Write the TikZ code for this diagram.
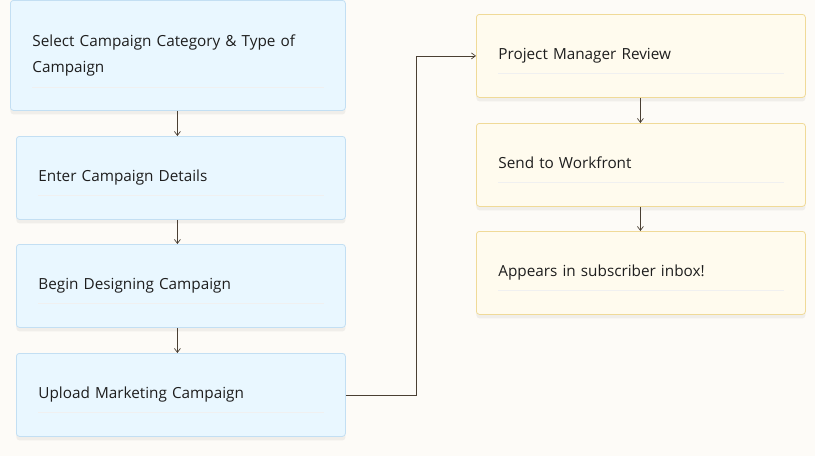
\documentclass[tikz,border=0pt]{standalone}
\usepackage{fontspec}
\setmainfont{Open Sans}
\usepackage{xcolor}
\usetikzlibrary{positioning,arrows.meta,shadows}
\definecolor{pagebg}{HTML}{FDFBF7}
\definecolor{bluefill}{HTML}{E9F7FF}
\definecolor{blueline}{HTML}{C3DFF3}
\definecolor{yellowfill}{HTML}{FFFBEE}
\definecolor{yellowline}{HTML}{F0DA98}
\definecolor{flowline}{HTML}{4A3F33}
\definecolor{textdark}{HTML}{1E1E1E}

\begin{document}
\begin{tikzpicture}[x=1pt, y=-1pt,
  stepbox/.style={rectangle, rounded corners=3pt, line width=0.8pt, anchor=north west,
    minimum height=83pt, text width=285pt, inner xsep=22pt, align=left,
    font=\fontsize{15.3}{26}\selectfont, text=textdark, text depth=4pt,
    drop shadow={shadow xshift=0pt, shadow yshift=-4pt, opacity=0.05, fill=black}},
  bluebox/.style={stepbox, draw=blueline, fill=bluefill},
  yellowbox/.style={stepbox, draw=yellowline, fill=yellowfill},
  flow/.style={draw=flowline, line width=0.7pt, -{Straight Barb[length=4pt,width=6pt]}}]
  \fill[pagebg] (0,0) rectangle (815,456);
  \useasboundingbox (0,0) rectangle (815,456);

  % left column
  \node[bluebox, minimum width=335pt, text width=291pt, inner xsep=22pt, minimum height=110pt, text depth={}] (select) at (10,0) {Select Campaign Category \& Type of\\Campaign};
  \node[bluebox, minimum width=329pt] (details) at (16,136) {Enter Campaign Details};
  \node[bluebox, minimum width=329pt] (design) at (16,244) {Begin Designing Campaign};
  \node[bluebox, minimum width=329pt] (upload) at (16,353) {Upload Marketing Campaign};

  % right column
  \node[yellowbox, minimum width=329pt] (review) at (476,14) {Project Manager Review};
  \node[yellowbox, minimum width=329pt] (workfront) at (476,123) {Send to Workfront};
  \node[yellowbox, minimum width=329pt] (inbox) at (476,231) {Appears in subscriber inbox!};

  % separators under the text
  \foreach \b in {details,design,upload,review,workfront,inbox}
    \draw[black!6, line width=0.6pt] ([xshift=22pt,yshift=25pt]\b.south west) -- ([xshift=-22pt,yshift=25pt]\b.south east);
  \draw[black!6, line width=0.6pt] ([xshift=22pt,yshift=24pt]select.south west) -- ([xshift=-22pt,yshift=24pt]select.south east);

  % connectors
  \coordinate (bend) at (416,395);
  \draw[flow] ([xshift=-0.5pt]select.south) -- ([xshift=-0.5pt]select.south |- details.north);
  \draw[flow] ([xshift=-3.5pt]details.south) -- ([xshift=-3.5pt]details.north |- design.north);
  \draw[flow] ([xshift=-3.5pt]design.south) -- ([xshift=-3.5pt]design.north |- upload.north);
  \draw[flow] (upload.east |- bend) -- (bend) |- (review.west);
  \draw[flow] ([xshift=-0.5pt]review.south) -- ([xshift=-0.5pt]review.south |- workfront.north);
  \draw[flow] ([xshift=-0.5pt]workfront.south) -- ([xshift=-0.5pt]workfront.south |- inbox.north);
\end{tikzpicture}
\end{document}
